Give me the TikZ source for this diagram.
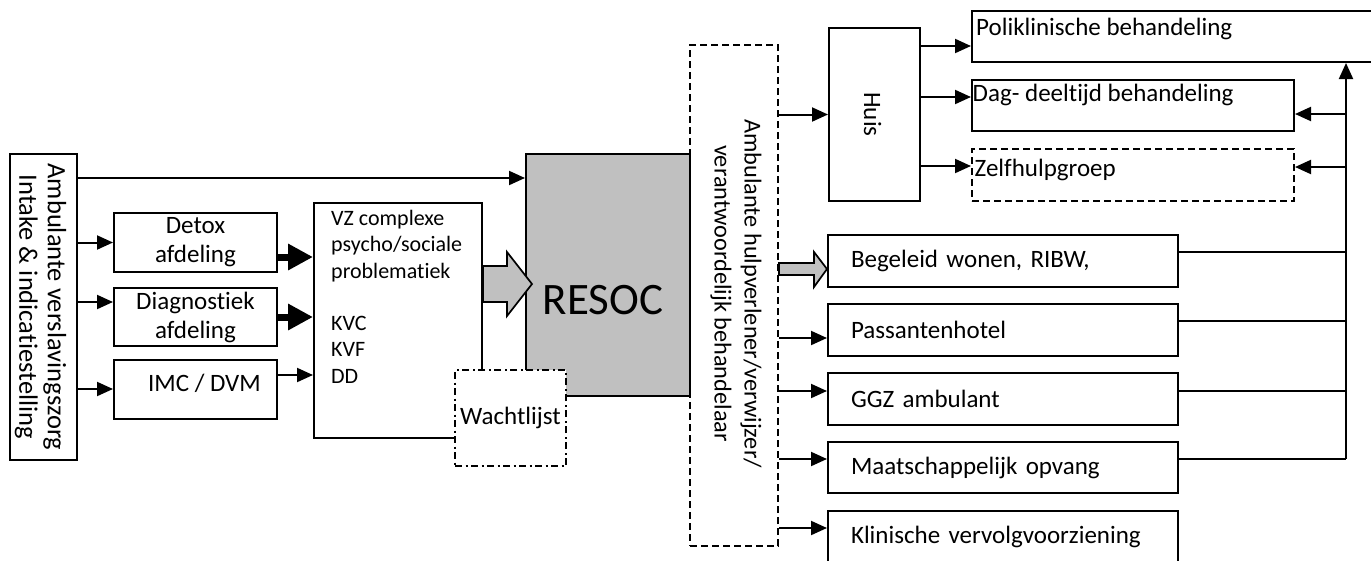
\documentclass[tikz,border=0pt]{standalone}
\usepackage{fontspec}
\setmainfont{Carlito}[Ligatures=NoCommon]
\usetikzlibrary{arrows.meta}
\definecolor{resocgray}{HTML}{C0C0C0}
\begin{document}
\begin{tikzpicture}[x=1pt,y=-1pt,
  lbl/.style={font=\fontsize{25}{29}\selectfont},
  box/.style={draw, line width=2pt, fill=white, inner sep=0pt, lbl},
  dashbox/.style={box, dash pattern=on 7pt off 4pt},
  dotbox/.style={box, dash pattern=on 7pt off 3.5pt on 2pt off 3.5pt},
  rbox/.style={box, minimum height=52pt, text width=304pt, align=left, inner xsep=23pt, inner ysep=0pt},
  vlabel/.style={rotate=-90, align=center, inner sep=0pt},
  conn/.style={line width=1.6pt},
  arr/.style={line width=2pt, -{Triangle[length=16pt,width=14pt]}},
  fat/.style={line width=7pt, -{Triangle[length=25pt,width=25pt]}},
  block/.style={draw, line width=1.7pt, fill=resocgray, line join=miter}]
\useasboundingbox (0,0) rectangle (1371,560);
\clip (0,0) rectangle (1371,560);

% intake column and first-line departments
\node[box, minimum width=67pt, minimum height=306pt,
  label={[xshift=-3pt, vlabel, font=\fontsize{26.5}{28.5}\selectfont]center:{Ambulante verslavingszorg\\Intake \& indicatiestelling}}] (amb) at (43.5,307) {};
\node[box, minimum width=163pt, minimum height=59pt, align=center] (detox) at (195.5,242.5) {Detox\\afdeling};
\node[box, minimum width=163pt, minimum height=58pt, align=center] (diag) at (195.5,317) {Diagnostiek\\afdeling};
\node[box, minimum width=163pt, minimum height=59pt,
  label={[inner sep=0pt, xshift=9pt, yshift=6pt, lbl]center:IMC / DVM}] (imc) at (195.5,389.5) {};

% clinical facilities
\node[box, minimum width=168pt, minimum height=235pt,
  label={[anchor=north west, align=left, inner sep=0pt, xshift=18pt, yshift=-8pt, font=\fontsize{22}{26.3}\selectfont]north west:{VZ complexe\\psycho/sociale\\problematiek\\[26.3pt]KVC\\KVF\\DD}}] (vz) at (398,320.5) {};
\node[box, fill=resocgray, minimum width=164pt, minimum height=242pt,
  label={[inner sep=0pt, xshift=-5pt, yshift=-25pt, font=\fontsize{45}{54}\selectfont]center:RESOC}] (resoc) at (608,275) {};

% block arrow from VZ into RESOC
\draw[block] (vz.east |- 0,266) -- (507,266) -- (507,252) -- (532,284) -- (507,316) -- (507,302) -- (vz.east |- 0,302) -- cycle;

\node[dotbox, minimum width=111pt, minimum height=96pt] (wait) at (510.5,418) {Wachtlijst};

% aftercare
\node[dashbox, fill=none, minimum width=88pt, minimum height=501pt,
  label={[xshift=2pt, yshift=2pt, vlabel, font=\fontsize{24.3}{30}\selectfont]center:{Ambulante hulpverlener/verwijzer/\\verantwoordelijk behandelaar}}] (amb2) at (734,295.5) {};
\node[box, minimum width=91pt, minimum height=173pt,
  label={[xshift=-2pt, vlabel, lbl]center:Huis}] (huis) at (874.5,114.5) {};

\node[box, minimum width=460pt, minimum height=51pt,
  label={[anchor=west, inner sep=0pt, xshift=5pt, yshift=7.5pt, lbl]west:Poliklinische behandeling}] (poli) at (1202,36.5) {};
\node[box, minimum width=322pt, minimum height=51pt,
  label={[anchor=west, inner sep=0pt, xshift=1.5pt, yshift=10.5pt, lbl]west:Dag- deeltijd behandeling}] (dag) at (1133,105.5) {};
\node[dashbox, minimum width=322pt, minimum height=52pt,
  label={[anchor=west, inner sep=0pt, xshift=3.5pt, yshift=5pt, lbl]west:Zelfhulpgroep}] (zelf) at (1133,175) {};

\node[rbox] (beg) at (1003,261) {Begeleid wonen, RIBW,};
\node[rbox] (pass) at (1003,330) {Passantenhotel};
\node[rbox] (ggz) at (1003,399) {GGZ ambulant};
\node[rbox, minimum height=51pt] (maat) at (1003,467.5) {Maatschappelijk opvang};
\node[rbox] (klin) at (1003,537) {Klinische vervolgvoorziening};

% connectors on the left
\draw[arr] (amb.east |- 0,178) -- (resoc.west |- 0,178);
\draw[arr] (amb.east |- detox.west) -- (detox.west);
\draw[arr] (amb.east |- 0,302) -- (diag.west |- 0,302);
\draw[arr] (amb.east |- 0,389) -- (imc.west |- 0,389);
\draw[fat] (detox.east |- 0,257) -- (vz.west |- 0,257);
\draw[fat] (diag.east) -- (vz.west |- diag.east);
\draw[arr] (imc.east |- 0,375) -- (vz.west |- 0,375);

% connectors from the referrer
\draw[arr] (amb2.east |- huis.west) -- (huis.west);
\draw[block] (amb2.east |- 0,263) -- (814,263) -- (814,252) -- (beg.west |- 0,269) -- (814,287) -- (814,275) -- (amb2.east |- 0,275) -- cycle;
\draw[arr] (amb2.east |- 0,338) -- (pass.west |- 0,338);
\draw[arr] (amb2.east |- 0,391) -- (ggz.west |- 0,391);
\draw[arr] (amb2.east |- 0,459) -- (maat.west |- 0,459);
\draw[arr] (amb2.east |- 0,528) -- (klin.west |- 0,528);

\draw[arr] (huis.east |- 0,46) -- (poli.west |- 0,46);
\draw[arr] (huis.east |- 0,97) -- (dag.west |- 0,97);
\draw[arr] (huis.east |- 0,166) -- (zelf.west |- 0,166);

% return trunk on the right
\coordinate (trunk) at (1346,459);
\draw[conn] (beg.east |- 0,252) -- (trunk |- 0,252);
\draw[conn] (pass.east |- 0,321) -- (trunk |- 0,321);
\draw[conn] (ggz.east |- 0,391) -- (trunk |- 0,391);
\draw[conn] (maat.east |- trunk) -- (trunk);
\draw[arr] (trunk) -- (trunk |- poli.south);
\draw[arr] (trunk |- 0,114) -- (dag.east |- 0,114);
\draw[arr] (trunk |- 0,167) -- (zelf.east |- 0,167);
\end{tikzpicture}
\end{document}
